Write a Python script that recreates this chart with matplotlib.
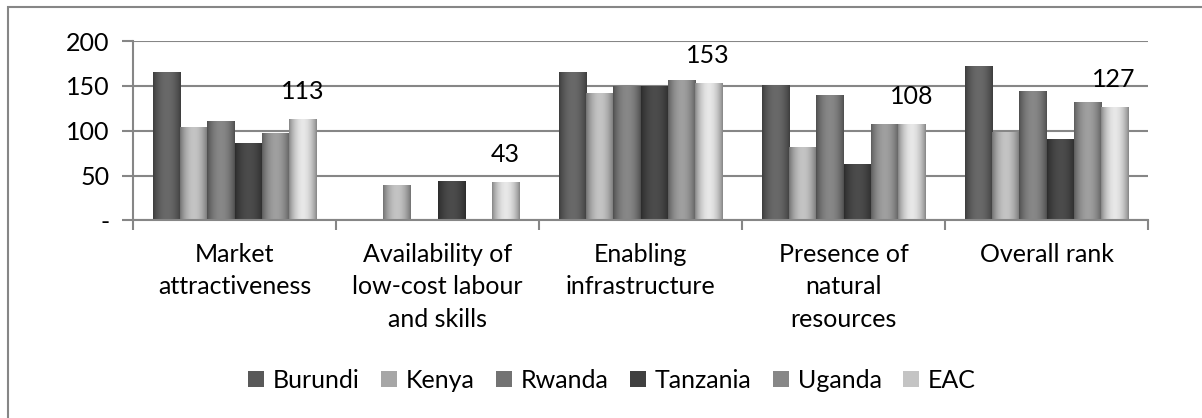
import matplotlib
matplotlib.use("Agg")
import matplotlib.pyplot as plt
import numpy as np
from matplotlib.colors import to_rgb
from matplotlib.patches import Rectangle

categories = [
    "Market\nattractiveness",
    "Availability of\nlow-cost labour\nand skills",
    "Enabling\ninfrastructure",
    "Presence of\nnatural\nresources",
    "Overall rank",
]
countries = ["Burundi", "Kenya", "Rwanda", "Tanzania", "Uganda", "EAC"]
burundi = [166, 0, 166, 151, 172]
kenya = [104, 40, 142, 82, 99]
rwanda = [111, 0, 150, 140, 144]
tanzania = [86, 44, 150, 63, 91]
uganda = [98, 0, 156, 107, 132]
eac = [113, 43, 153, 108, 127]
eac_labels = ["113", "43", "153", "108", "127"]
yticks = [0, 50, 100, 150, 200]
ytick_labels = ["-", "50", "100", "150", "200"]

colors = ["#595959", "#a6a6a6", "#737373", "#404040", "#878787", "#c4c4c4"]
series = [burundi, kenya, rwanda, tanzania, uganda, eac]

plt.rcParams["font.family"] = ["Lato", "DejaVu Sans"]
FS = 18

fig = plt.figure(figsize=(12.02, 4.18), dpi=100)
ax = fig.add_axes([0.1107, 0.4725, 0.8444, 0.4294])

x = np.arange(len(categories))
n = len(series)
width = 0.8 / n

# horizontal shading across each bar: dark edges, lighter middle
t = np.linspace(0, 1, 64)
shade = 0.68 + 0.5 * np.sin(np.pi * t) ** 0.8


def shaded_bars(xs, vals, color):
    base = np.array(to_rgb(color))
    img = np.clip(shade[:, None] * base[None, :], 0, 1)[None, :, :]
    for v, xi in zip(vals, xs):
        if v <= 0:
            continue
        rect = Rectangle((xi - width / 2, 0), width, v, facecolor="none", edgecolor="none")
        ax.add_patch(rect)
        im = ax.imshow(img, extent=(xi - width / 2, xi + width / 2, 0, v),
                       aspect="auto", interpolation="bilinear", zorder=2)
        im.set_clip_path(rect)


for i, (vals, c) in enumerate(zip(series, colors)):
    shaded_bars(x - 0.4 + width * (i + 0.5), vals, c)

xs_eac = x - 0.4 + width * (n - 0.5)
for xi, v, lab in zip(xs_eac, eac, eac_labels):
    ax.annotate(lab, (xi, v), xytext=(0, 16), textcoords="offset pixels",
                ha="center", va="bottom", fontsize=FS)

ax.set_xlim(-0.5, len(categories) - 0.5)
ax.set_ylim(0, 200)
ax.set_yticks(yticks)
ax.set_yticklabels(ytick_labels, fontsize=FS)
ax.yaxis.grid(True, color="#868686", linewidth=1.5, zorder=1)
ax.set_axisbelow(True)

ax.set_xticks(x)
ax.set_xticklabels(categories, fontsize=FS, linespacing=1.5)
ax.set_xticks(np.arange(-0.5, len(categories)), minor=True)
ax.tick_params(axis="x", which="major", length=0, pad=16)
ax.tick_params(axis="x", which="minor", length=7, width=1.5, color="#868686")
ax.tick_params(axis="y", length=8, width=1.5, color="#868686", pad=9)

for side in ["top", "right"]:
    ax.spines[side].set_visible(False)
for side in ["left", "bottom"]:
    ax.spines[side].set_color("#868686")
    ax.spines[side].set_linewidth(1.5)

handles = [Rectangle((0, 0), 1, 1, facecolor=c) for c in colors]
fig.legend(handles, countries, loc="center", bbox_to_anchor=(0.509, 0.09),
           ncol=6, frameon=False, fontsize=FS, handlelength=0.65, handleheight=0.65,
           handletextpad=0.35, columnspacing=0.85)

# chart frame, cropped on the right and bottom in the original
fig.add_artist(Rectangle((8 / 1202, -0.1), 1.2, 1.1 - 7 / 418, transform=fig.transFigure,
                         facecolor="none", edgecolor="#868686", linewidth=1.5))

fig.savefig("out.png", dpi=100)
